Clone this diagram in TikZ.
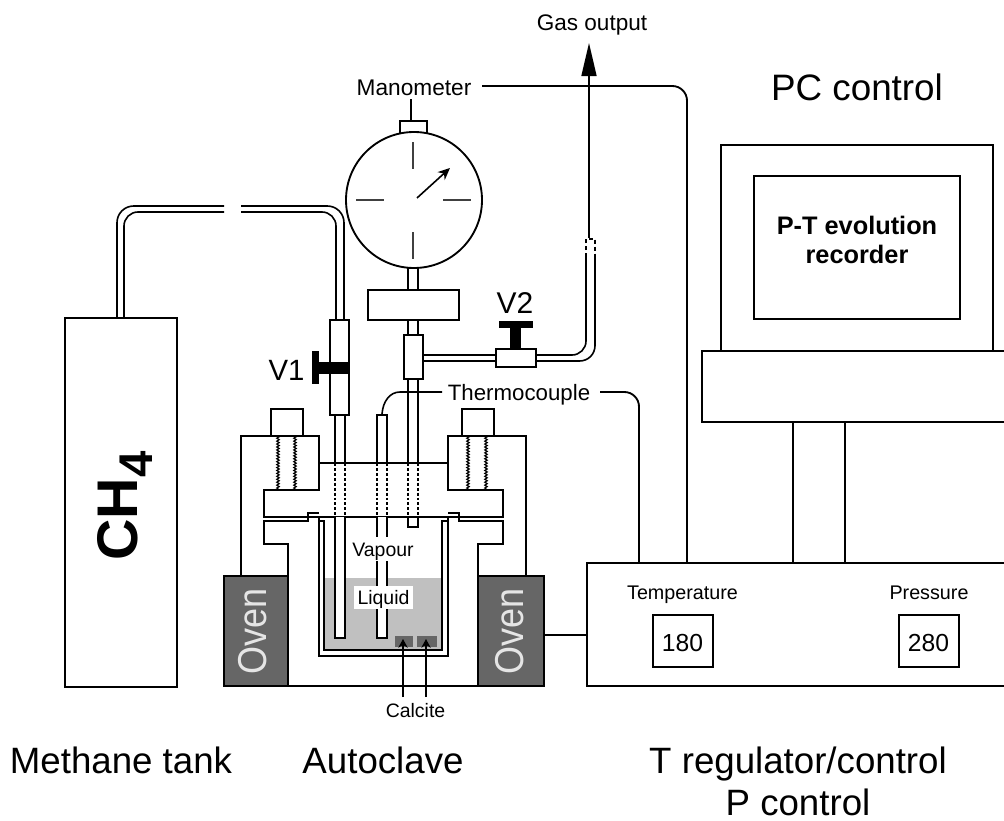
\documentclass[tikz,border=0pt]{standalone}
\usepackage{fontspec}
\setmainfont{Liberation Sans}
\usetikzlibrary{arrows.meta,decorations.pathmorphing}
\newcommand{\pxfont}[1]{\fontsize{#1}{#1}\selectfont}
\tikzset{
  ln/.style={line width=1.2pt,line join=miter},
  boxn/.style={draw,ln,fill=white,inner sep=0pt,outer sep=0pt,anchor=north west},
  sized/.style 2 args={minimum width=#1*0.75pt,minimum height=#2*0.75pt},
  ovenbox/.style={boxn,fill=ovengray},
  sample/.style={inner sep=0pt,outer sep=0pt,anchor=north west,fill=ovengray},
  black handle/.style={fill=black,draw=none},
  txt/.style={inner sep=0pt,outer sep=0pt,anchor=base,text=black},
  dotline/.style={line width=1.1pt,dash pattern=on 2.2pt off 1.5pt},
  thread/.style={line width=0.9pt,decorate,decoration={zigzag,amplitude=0.9pt,segment length=2.2pt}},
  tick/.style={line width=0.8pt,draw=black!75},
  tiparrow/.style={ln,-{Stealth[length=6.5pt,width=7pt]}},
  signal/.style={line width=1.4pt,rounded corners=11pt}
}
\definecolor{ovengray}{HTML}{666666}
\definecolor{liquidgray}{HTML}{C0C0C0}
\begin{document}
\begin{tikzpicture}[x=0.75pt,y=-0.75pt]
\useasboundingbox (0,0) rectangle (1004,821);
\clip (0,0) rectangle (1004,821);

% --- named free ends
\coordinate (manEnd) at (482,86);
\coordinate (manCorner) at (687,86);
\coordinate (tcA) at (600,392);
\coordinate (tcCorner) at (639,392);
\coordinate (tcB) at (442,392);
\coordinate (gasStart) at (589,238);
\coordinate (gasTip) at (589,43);
\coordinate (c1a) at (403,697);
\coordinate (c1b) at (403,639);
\coordinate (c2a) at (426,697);
\coordinate (c2b) at (426,639);

% --- methane tank
\node[boxn,sized={112}{369}] (tank) at (65,318) {};
\node[txt,rotate=90,anchor=base west] (ch4) at (137,560.5)
  {\pxfont{43}\bfseries CH\raisebox{-11.5pt}{\pxfont{35.5}4}};

% --- CH4 line
\draw[ln,rounded corners=12.5pt] (117,318) -- (117,206) -- (224,206);
\draw[ln,rounded corners=10.5pt] (124,318) -- (124,212) -- (224,212);
\draw[ln,rounded corners=12.5pt] (241,206) -- (344,206) -- (344,320);
\draw[ln,rounded corners=10.5pt] (241,212) -- (336,212) -- (336,320);

% --- autoclave body
\draw[ln] (241,576) -- (241,436) -- (319,436) -- (319,490) -- (264,490) -- (264,517) -- (503,517) -- (503,490) -- (448,490) -- (448,436) -- (526,436) -- (526,576);
\draw[ln] (319,463) -- (448,463);
\draw[ln] (288,576) -- (288,544) -- (264,544) -- (264,521) -- (308,521) -- (308,513) -- (319,513);
\draw[ln] (478,576) -- (478,544) -- (503,544) -- (503,521) -- (459,521) -- (459,513) -- (448,513);
\node[boxn,sized={32}{27}] (knobL) at (271,409) {};
\node[boxn,sized={32}{27}] (knobR) at (462,409) {};
\draw[thread] (278,436) -- (278,490);
\draw[thread] (295,436) -- (295,490);
\draw[thread] (468,436) -- (468,490);
\draw[thread] (486,436) -- (486,490);

% --- vessel
\fill[liquidgray] (324,578) rectangle (442,650);
\draw[ln] (319,517) -- (319,656) -- (448,656) -- (448,517);
\draw[ln] (319,521) -- (324,521) -- (324,650) -- (442,650) -- (442,521) -- (448,521);

% --- tube V1
\fill[white] (335,517) rectangle (345,638);
\draw[ln] (335,415) -- (335,463);
\draw[ln] (345,415) -- (345,463);
\draw[dotline] (335,463) -- (335,517);
\draw[dotline] (345,463) -- (345,517);
\draw[ln] (335,517) -- (335,638) -- (345,638) -- (345,517);

% --- thermocouple tube
\fill[white] (377,517) rectangle (387,638);
\draw[ln] (377,463) -- (377,415) -- (387,415) -- (387,463);
\draw[dotline] (377,463) -- (377,517);
\draw[dotline] (387,463) -- (387,517);
\draw[ln] (377,517) -- (377,638) -- (387,638) -- (387,517);

% --- centre tube
\draw[ln] (408,268) -- (408,290);
\draw[ln] (418,268) -- (418,290);
\draw[ln] (408,320) -- (408,335);
\draw[ln] (418,320) -- (418,335);
\draw[ln] (408,379) -- (408,463);
\draw[ln] (418,379) -- (418,463);
\draw[dotline] (408,463) -- (408,517);
\draw[dotline] (418,463) -- (418,517);
\draw[ln] (408,517) -- (408,527) -- (418,527) -- (418,517);

% --- labels inside vessel
\node[txt,fill=white,inner xsep=3pt,text height=14pt,text depth=4pt] (vapour) at (383,556) {\pxfont{14.6}Vapour};
\node[txt,fill=white,inner xsep=3pt,text height=13.5pt,text depth=3.75pt] (liquid) at (383.5,604) {\pxfont{14.6}Liquid};

% --- samples
\node[sample,sized={18}{11}] (s1) at (395,636) {};
\node[sample,sized={20}{11}] (s2) at (417,636) {};
\node[txt] (calcite) at (415.5,717) {\pxfont{14.6}Calcite};
\draw[tiparrow] (c1a) -- (c1b);
\draw[tiparrow] (c2a) -- (c2b);

% --- ovens
\node[ovenbox,sized={64}{110}] (ovenL) at (224,576) {};
\node[ovenbox,sized={66}{110}] (ovenR) at (478,576) {};
\draw[ln] (ovenL.south east) -- (ovenR.south west);
\node[txt,rotate=90,text=white!90!black] (ovenLt) at (266,631.5) {\pxfont{27}\scalebox{1}[1.12]{Oven}};
\node[txt,rotate=90,text=white!90!black] (ovenRt) at (523,631.5) {\pxfont{27}\scalebox{1}[1.12]{Oven}};

% --- V1 valve
\node[boxn,sized={19}{95}] (v1s) at (330,320) {};
\fill[black handle] (312,351) rectangle (319,384);
\fill[black handle] (319,362) rectangle (349,374);
\node[txt] (v1t) at (286.5,380) {\pxfont{22}V1};

% --- manometer
\node[boxn,sized={27}{14}] (knob) at (400,121) {};
\coordinate (knobLine) at (411,99);
\draw[line width=1.4pt] (knobLine) -- (knobLine |- knob.north);
\node[draw,circle,line width=1.4pt,fill=white,minimum size=102pt,inner sep=0pt,outer sep=0pt] (gauge) at (414,200) {};
\draw[tick] (413,142) -- (413,169);
\draw[tick] (413,232) -- (413,259);
\draw[tick] (356,200) -- (384,200);
\draw[tick] (443,200) -- (471,200);
\draw[ln,-{Stealth[length=9pt,width=8pt]}] (417,198) -- (450,168);
\node[boxn,sized={91}{30}] (block) at (368,290) {};
\node[boxn,sized={19}{44}] (tee) at (404,335) {};
\node[txt] (mano) at (414,95) {\pxfont{17}Manometer};

% --- output line
\draw[ln] (423,355) -- (496,355);
\draw[ln] (423,361) -- (496,361);
\draw[ln,rounded corners=10.5pt] (536,355) -- (586,355) -- (586,257);
\draw[ln,rounded corners=11.5pt] (536,361) -- (595,361) -- (595,257);
\draw[line width=1.1pt,dash pattern=on 3pt off 2.2pt] (586,257) -- (586,239) -- (595,239) -- (595,257);
\node[boxn,sized={40}{18}] (v2b) at (496,349) {};
\fill[black handle] (499,321) rectangle (533,328);
\fill[black handle] (510,328) rectangle (521,349);
\node[txt] (v2t) at (515,313) {\pxfont{22.5}V2};

% --- PC
\node[boxn,sized={272}{206}] (monitor) at (721,145) {};
\node[boxn,sized={206}{143}] (screen) at (754,176) {};
\node[boxn,sized={320}{71}] (desk) at (702,351) {};
\node[txt] (rec1) at (857,234) {\pxfont{19}\bfseries P-T evolution};
\node[txt] (rec2) at (857,263) {\pxfont{19}\bfseries recorder};
\node[txt] (pc) at (857,100) {\pxfont{27.6}PC control};

% --- control box
\node[boxn,sized={440}{123}] (ctrl) at (587,563) {};
\node[txt] (tempt) at (682.5,599) {\pxfont{14.8}Temperature};
\node[txt] (prest) at (929,599) {\pxfont{14.8}Pressure};
\node[boxn,sized={60}{52}] (tbox) at (653,615) {};
\node[boxn,sized={60}{52}] (pbox) at (899,615) {};
\node[txt] (tval) at (682.5,651) {\pxfont{18.5}180};
\node[txt] (pval) at (928.5,651) {\pxfont{18.5}280};
\coordinate (standL) at (793,422);
\coordinate (standR) at (845,422);
\draw[ln] (standL) -- (standL |- ctrl.north);
\draw[ln] (standR) -- (standR |- ctrl.north);
\coordinate (ovenLink) at (544,635);
\draw[ln] (ovenLink) -- (ovenLink -| ctrl.west);

% --- signal lines
\draw[signal] (manEnd) -- (manCorner) -- (manCorner |- ctrl.north);
\draw[signal] (tcA) -- (tcCorner) -- (tcCorner |- ctrl.north);
\draw[ln] (382,414) .. controls (383,401) and (390,392) .. (400,392) -- (tcB);
\node[txt] (thermo) at (519,400) {\pxfont{16.7}Thermocouple};

% --- gas output
\draw[ln,-{Triangle[length=24.75pt,width=11.25pt]}] (gasStart) -- (gasTip);
\node[txt] (gas) at (592,31) {\pxfont{16.9}Gas output};

% --- captions
\node[txt] (cap1) at (121,773) {\pxfont{27.5}Methane tank};
\node[txt] (cap2) at (383,773) {\pxfont{27.5}Autoclave};
\node[txt] (cap3) at (798,773) {\pxfont{27.5}T regulator/control};
\node[txt] (cap4) at (798,815) {\pxfont{27.5}P control};
\end{tikzpicture}
\end{document}
